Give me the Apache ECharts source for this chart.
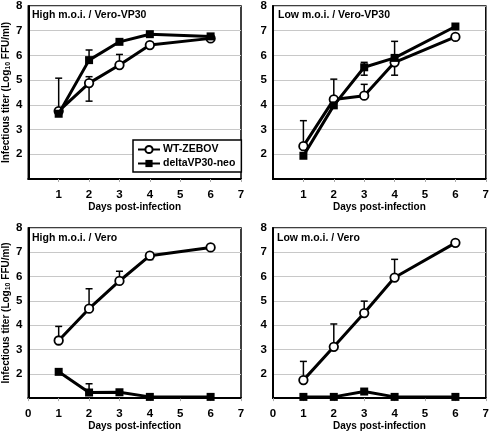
<!DOCTYPE html>
<html>
<head>
<meta charset="utf-8">
<script src="https://cdn.jsdelivr.net/npm/echarts@6/dist/echarts.min.js"></script>
<style>html,body{margin:0;padding:0;background:#fff}#c{width:492px;height:432px}</style>
</head>
<body>
<div id="c"></div>
<script>
var days = [1, 2, 3, 4, 6];
var panelTitles = ['High m.o.i. / Vero-VP30', 'Low m.o.i. / Vero-VP30', 'High m.o.i. / Vero', 'Low m.o.i. / Vero'];
var seriesNames = ['WT-ZEBOV', 'deltaVP30-neo'];
var xTicks = [0, 1, 2, 3, 4, 5, 6, 7];
var yTicks = [1, 2, 3, 4, 5, 6, 7, 8];

// Panel 1: High m.o.i. / Vero-VP30
var wt1 = [3.75, 4.88, 5.61, 6.42, 6.69];
var wt1Up = [5.08, 5.14, 6.04, null, null];
var wt1Down = [null, 4.15, null, null, null];
var dv1 = [3.64, 5.81, 6.55, 6.86, 6.77];
var dv1Up = [null, 6.22, null, null, null];
var dv1Down = [null, null, null, null, null];

// Panel 2: Low m.o.i. / Vero-VP30
var wt2 = [2.33, 4.22, 4.37, 5.72, 6.75];
var wt2Up = [3.36, 5.04, 4.83, null, null];
var wt2Down = [null, null, null, 5.2, null];
var dv2 = [1.94, 3.98, 5.52, 5.9, 7.17];
var dv2Up = [null, null, 5.72, 6.57, null];
var dv2Down = [null, null, 5.2, null, null];

// Panel 3: High m.o.i. / Vero
var wt3 = [3.37, 4.68, 5.82, 6.86, 7.2];
var wt3Up = [3.95, 5.5, 6.22, null, null];
var wt3Down = [null, null, null, 6.7, null];
var dv3 = [2.08, 1.23, 1.24, 1.05, 1.05];
var dv3Up = [null, 1.59, null, null, null];
var dv3Down = [null, null, null, null, null];

// Panel 4: Low m.o.i. / Vero
var wt4 = [1.74, 3.11, 4.5, 5.96, 7.39];
var wt4Up = [2.51, 4.05, 4.99, 6.71, null];
var wt4Down = [null, null, null, null, null];
var dv4 = [1.05, 1.05, 1.27, 1.05, 1.05];
var dv4Up = [null, null, null, null, null];
var dv4Down = [null, null, null, null, null];

var panels = [
  {wt: wt1, wtUp: wt1Up, wtDown: wt1Down, dv: dv1, dvUp: dv1Up, dvDown: dv1Down},
  {wt: wt2, wtUp: wt2Up, wtDown: wt2Down, dv: dv2, dvUp: dv2Up, dvDown: dv2Down},
  {wt: wt3, wtUp: wt3Up, wtDown: wt3Down, dv: dv3, dvUp: dv3Up, dvDown: dv3Down},
  {wt: wt4, wtUp: wt4Up, wtDown: wt4Down, dv: dv4, dvUp: dv4Up, dvDown: dv4Down}
];

var FONT = '"Liberation Sans", Arial, sans-serif';
var grids = [
  {left: 27, top: 5, width: 214, height: 174},
  {left: 273, top: 5, width: 214, height: 174},
  {left: 27, top: 228, width: 214, height: 172},
  {left: 273, top: 228, width: 214, height: 172}
];
var titlePos = [[32, 10], [278, 10], [32, 233], [277, 233]];

var option = {
  animation: false,
  backgroundColor: '#fff',
  title: panelTitles.map(function (t, i) {
    return {text: t, left: titlePos[i][0], top: titlePos[i][1], padding: 0,
      textStyle: {fontFamily: FONT, fontSize: 10.5, fontWeight: 'bold', color: '#000'}};
  }),
  legend: {
    data: seriesNames,
    orient: 'vertical',
    left: 133, top: 140,
    width: 106,
    padding: [4, 6, 3, 4],
    itemGap: 3,
    itemWidth: 22, itemHeight: 9,
    borderColor: '#000', borderWidth: 1.5,
    backgroundColor: '#fff',
    selectedMode: false,
    textStyle: {fontFamily: FONT, fontSize: 10.5, fontWeight: 'bold', color: '#000', padding: [0, 0, 0, -2]}
  },
  grid: grids.map(function (g) {
    return Object.assign({show: true, borderColor: '#000', borderWidth: 1.5, backgroundColor: 'transparent', containLabel: false}, g);
  }),
  xAxis: grids.map(function (g, i) {
    return {
      type: 'value', gridIndex: i, min: xTicks[0], max: xTicks[xTicks.length - 1], interval: 1,
      name: 'Days post-infection', nameLocation: 'middle', nameGap: 22,
      nameTextStyle: {fontFamily: FONT, fontSize: 10, fontWeight: 'bold', color: '#000'},
      axisLine: {show: true, onZero: false, lineStyle: {color: '#000', width: 2}},
      axisTick: {show: true, length: 3, lineStyle: {color: '#aaa', width: 1}},
      splitLine: {show: false},
      axisLabel: {
        margin: 10, fontFamily: FONT, fontSize: 11.5, fontWeight: 'bold', color: '#000',
        showMinLabel: i >= 2,
        formatter: function (v) { return (i < 2 && v === 0) ? '' : String(v); }
      }
    };
  }),
  yAxis: grids.map(function (g, i) {
    var left = (i % 2 === 0);
    return {
      type: 'value', gridIndex: i, min: yTicks[0], max: yTicks[yTicks.length - 1], interval: 1,
      name: left ? 'Infectious titer (Log{sub|10} FFU/ml)' : '',
      nameLocation: 'middle', nameGap: 12,
      nameTextStyle: {fontFamily: FONT, fontSize: 10, fontWeight: 'bold', color: '#000',
        rich: {sub: {fontFamily: FONT, fontSize: 7, fontWeight: 'bold', verticalAlign: 'bottom', padding: [5, 0, 0, 0]}}},
      axisLine: {show: true, lineStyle: {color: '#000', width: 2}},
      axisTick: {show: false},
      splitLine: {show: true, lineStyle: {color: '#c8c8c8', width: 1}},
      axisLabel: {
        margin: 6, fontFamily: FONT, fontSize: 11.5, fontWeight: 'bold', color: '#000',
        formatter: function (v) { return v === 1 ? '' : String(v); }
      }
    };
  }),
  series: []
};

function errData(vals, caps) {
  var out = [];
  for (var k = 0; k < days.length; k++) {
    if (caps[k] != null) out.push([days[k], vals[k], caps[k]]);
  }
  return out;
}

function renderErr(params, api) {
  var p0 = api.coord([api.value(0), api.value(1)]);
  var p1 = api.coord([api.value(0), api.value(2)]);
  var half = 3.5;
  var st = {stroke: '#000', lineWidth: 1.5, fill: null};
  return {
    type: 'group',
    children: [
      {type: 'line', shape: {x1: p0[0], y1: p0[1], x2: p1[0], y2: p1[1]}, style: st},
      {type: 'line', shape: {x1: p1[0] - half, y1: p1[1], x2: p1[0] + half, y2: p1[1]}, style: st}
    ]
  };
}

panels.forEach(function (p, i) {
  var errs = [].concat(errData(p.wt, p.wtUp), errData(p.wt, p.wtDown), errData(p.dv, p.dvUp), errData(p.dv, p.dvDown));
  option.series.push({
    type: 'custom', xAxisIndex: i, yAxisIndex: i, renderItem: renderErr,
    data: errs, z: 1, silent: true, clip: false
  });
  option.series.push({
    name: seriesNames[0], type: 'line', xAxisIndex: i, yAxisIndex: i,
    data: days.map(function (d, k) { return [d, p.wt[k]]; }),
    symbol: 'circle', symbolSize: 8.5, showSymbol: true,
    lineStyle: {color: '#000', width: 3},
    itemStyle: {color: '#fff', borderColor: '#000', borderWidth: 1.8},
    z: 3
  });
  option.series.push({
    name: seriesNames[1], type: 'line', xAxisIndex: i, yAxisIndex: i,
    data: days.map(function (d, k) { return [d, p.dv[k]]; }),
    symbol: 'rect', symbolSize: 8, showSymbol: true,
    lineStyle: {color: '#000', width: 3},
    itemStyle: {color: '#000', borderColor: '#000', borderWidth: 0},
    z: 4
  });
});

var chart = echarts.init(document.getElementById('c'), null, {renderer: 'canvas'});
chart.setOption(option);
</script>
</body>
</html>
